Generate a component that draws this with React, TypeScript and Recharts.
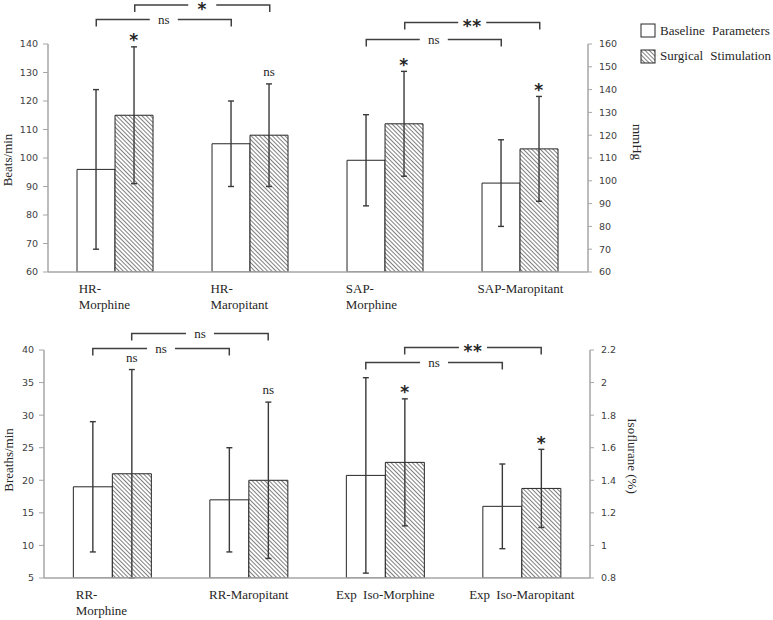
import React from 'react';
import { ComposedChart, Bar, XAxis, YAxis, ErrorBar, LabelList } from 'recharts';

// upper panel: heart rate (left axis) and systolic pressure (right axis)
const topCategories = ['HR-Morphine', 'HR-Maropitant', 'SAP-Morphine', 'SAP-Maropitant'];
const topTickLines = [['HR-', 'Morphine'], ['HR-', 'Maropitant'], ['SAP-', 'Morphine'], ['SAP-Maropitant']];
const hrBaseline = [96, 105];
const hrBaselineSd = [28, 15];
const hrSurgical = [115, 108];
const hrSurgicalSd = [24, 18];
const sapBaseline = [109, 99];
const sapBaselineSd = [20, 19];
const sapSurgical = [125, 114];
const sapSurgicalSd = [23, 23];
const topMarks = ['*', 'ns', '*', '*'];
const beatsTicks = [60, 70, 80, 90, 100, 110, 120, 130, 140];
const mmHgTicks = [60, 70, 80, 90, 100, 110, 120, 130, 140, 150, 160];

// lower panel: resp. rate (left axis) and expired isoflurane (right axis)
const bottomCategories = ['RR-Morphine', 'RR-Maropitant', 'Exp Iso-Morphine', 'Exp Iso-Maropitant'];
const bottomTickLines = [['RR-', 'Morphine'], ['RR-Maropitant'], ['Exp Iso-Morphine'], ['Exp Iso-Maropitant']];
const rrBaseline = [19, 17];
const rrBaselineSd = [10, 8];
const rrSurgical = [21, 20];
const rrSurgicalSd = [16, 12];
const isoBaseline = [1.43, 1.24];
const isoBaselineSd = [0.6, 0.26];
const isoSurgical = [1.51, 1.35];
const isoSurgicalSd = [0.39, 0.24];
const bottomMarks = ['ns', 'ns', '*', '*'];
const breathsTicks = [5, 10, 15, 20, 25, 30, 35, 40];
const isoTicks = [0.8, 1, 1.2, 1.4, 1.6, 1.8, 2, 2.2];

// comparison brackets: [from category, to category, bar (0 baseline / 1 surgical), y, text]
const topBrackets: [number, number, number, number, string][] = [
  [0, 1, 0, 19.5, 'ns'],
  [0, 1, 1, 5, '*'],
  [2, 3, 0, 39.5, 'ns'],
  [2, 3, 1, 22.5, '**'],
];
const bottomBrackets: [number, number, number, number, string][] = [
  [0, 1, 0, 38.5, 'ns'],
  [0, 1, 1, 23.5, 'ns'],
  [2, 3, 0, 52.5, 'ns'],
  [2, 3, 1, 37.5, '**'],
];

const SERIF = '"Liberation Serif", "Times New Roman", serif';
const SANS = '"DejaVu Sans", Verdana, sans-serif';
const AXIS = '#a6a6a6';
const INK = '#262626';
const GAP = 0.215;

function buildRows(cats, lb, lbSd, ls, lsSd, rb, rbSd, rs, rsSd, marks) {
  return cats.map((name, i) => {
    const left = i < 2;
    const j = left ? i : i - 2;
    return {
      name,
      leftBase: left ? lb[j] : null,
      leftBaseSd: left ? lbSd[j] : null,
      leftSurg: left ? ls[j] : null,
      leftSurgSd: left ? lsSd[j] : null,
      rightBase: left ? null : rb[j],
      rightBaseSd: left ? null : rbSd[j],
      rightSurg: left ? null : rs[j],
      rightSurgSd: left ? null : rsSd[j],
      mark: marks[i],
    };
  });
}

const topRows = buildRows(topCategories, hrBaseline, hrBaselineSd, hrSurgical, hrSurgicalSd,
  sapBaseline, sapBaselineSd, sapSurgical, sapSurgicalSd, topMarks);
const bottomRows = buildRows(bottomCategories, rrBaseline, rrBaselineSd, rrSurgical, rrSurgicalSd,
  isoBaseline, isoBaselineSd, isoSurgical, isoSurgicalSd, bottomMarks);

const Star = ({ x, y, text }) => (
  <text x={x} y={y} textAnchor="middle" fontFamily={SANS} fontSize={17} fontWeight="bold" fill={INK} letterSpacing={0.5}>
    {text}
  </text>
);

const catTick = (cats, lines) => (props) => {
  const { x, y, payload } = props;
  const ls = lines[cats.indexOf(payload.value)] || [payload.value];
  const common = { textAnchor: 'middle' as const, fontFamily: SERIF, fontSize: 13, fill: INK, wordSpacing: 3 };
  if (ls.length === 1) {
    return (
      <text x={x} y={y + 21} {...common}>
        {ls[0]}
      </text>
    );
  }
  return (
    <g>
      <text x={x} y={y + 21} {...common}>
        <tspan>{ls[0]}</tspan>
        <tspan fill="transparent">{ls[1]}</tspan>
      </text>
      <text x={x} y={y + 37} {...common}>
        <tspan>{ls[1]}</tspan>
        <tspan fill="transparent">{ls[0]}</tspan>
      </text>
    </g>
  );
};

const Panel = ({
  top, height, marginTop, xHeight, leftWidth, rightAxisX, rows, cats, tickLines,
  leftDomain, leftTicks, rightDomain, rightTicks, brackets, titles, hatchId, showLegend,
}) => {
  const rightWidth = 60;
  const plotW = rightAxisX - leftWidth;
  const catW = plotW / cats.length;
  const gap = catW * GAP;
  const barW = (catW - 2 * gap) / 2;
  const barX = (cat, s) => leftWidth + catW * cat + gap + barW * (s + 0.5);
  const tickStyle = { fontFamily: SANS, fontSize: 9.5, fill: '#404040' };

  // significance mark above the error bar of a surgical bar; the row is found from the bar's slot
  const markLabel = (valueKey, sdKey, min) => (props) => {
    const { x, y, width, height: h } = props;
    const cat = Math.floor((x + width / 2 - leftWidth) / catW);
    const row = rows[cat];
    if (!row || row[valueKey] == null || !h) return null;
    const top = y - (row[sdKey] * h) / (row[valueKey] - min);
    const cx = x + width / 2;
    if (row.mark === 'ns') {
      return (
        <text x={cx} y={top - 8} textAnchor="middle" fontFamily={SERIF} fontSize={13} fill={INK}>
          ns
        </text>
      );
    }
    return <Star x={cx} y={top - 0.5} text={row.mark} />;
  };

  return (
    <div style={{ position: 'absolute', left: 0, top, width: 773, height }}>
      <ComposedChart
        width={773}
        height={height}
        data={rows}
        margin={{ top: marginTop, right: 773 - rightAxisX - rightWidth, left: 0, bottom: 0 }}
        barCategoryGap={`${GAP * 100}%`}
        barGap={0}
      >
        <defs>
          <pattern id={hatchId} width={3} height={3} patternUnits="userSpaceOnUse" patternTransform="rotate(-45)">
            <rect width={3} height={3} fill="#fff" />
            <line x1={0} y1={0} x2={0} y2={3} stroke="#333" strokeWidth={1.25} />
          </pattern>
        </defs>
        <XAxis
          xAxisId="a"
          dataKey="name"
          height={xHeight}
          tickLine={false}
          tickSize={0}
          tickMargin={0}
          axisLine={{ stroke: AXIS, strokeWidth: 1.5 }}
          tick={catTick(cats, tickLines)}
          interval={0}
        />
        <XAxis xAxisId="b" dataKey="name" hide />
        <YAxis
          yAxisId="left"
          width={leftWidth}
          domain={leftDomain}
          ticks={leftTicks}
          interval={0}
          allowDataOverflow
          axisLine={{ stroke: AXIS, strokeWidth: 1.5 }}
          tickLine={{ stroke: AXIS }}
          tickSize={5}
          tickMargin={5}
          tick={tickStyle}
        />
        <YAxis
          yAxisId="right"
          orientation="right"
          width={rightWidth}
          domain={rightDomain}
          ticks={rightTicks}
          interval={0}
          allowDataOverflow
          axisLine={{ stroke: AXIS, strokeWidth: 1.5 }}
          tickLine={{ stroke: AXIS }}
          tickSize={4}
          tickMargin={7}
          tick={{ ...tickStyle, textAnchor: 'start' }}
        />
        <Bar xAxisId="a" yAxisId="left" dataKey="leftBase" fill="#fff" stroke={INK} isAnimationActive={false}>
          <ErrorBar dataKey="leftBaseSd" width={3} stroke="#3a3a3a" strokeWidth={1.4} direction="y" />
        </Bar>
        <Bar xAxisId="a" yAxisId="left" dataKey="leftSurg" fill={`url(#${hatchId})`} stroke={INK} isAnimationActive={false}>
          <ErrorBar dataKey="leftSurgSd" width={3} stroke="#3a3a3a" strokeWidth={1.4} direction="y" />
          <LabelList dataKey="leftSurg" content={markLabel('leftSurg', 'leftSurgSd', leftDomain[0])} />
        </Bar>
        <Bar xAxisId="b" yAxisId="right" dataKey="rightBase" fill="#fff" stroke={INK} isAnimationActive={false}>
          <ErrorBar dataKey="rightBaseSd" width={3} stroke="#3a3a3a" strokeWidth={1.4} direction="y" />
        </Bar>
        <Bar xAxisId="b" yAxisId="right" dataKey="rightSurg" fill={`url(#${hatchId})`} stroke={INK} isAnimationActive={false}>
          <ErrorBar dataKey="rightSurgSd" width={3} stroke="#3a3a3a" strokeWidth={1.4} direction="y" />
          <LabelList dataKey="rightSurg" content={markLabel('rightSurg', 'rightSurgSd', rightDomain[0])} />
        </Bar>
      </ComposedChart>
      <svg width={773} height={height} style={{ position: 'absolute', left: 0, top: 0, pointerEvents: 'none' }}>
        {brackets.map(([a, b, s, y, text], i) => {
          const x1 = barX(a, s);
          const x2 = barX(b, s);
          const mid = (x1 + x2) / 2;
          return (
            <g key={i} stroke="#404040" strokeWidth={1.5} fill="none">
              <path d={`M${x1},${y + 7}V${y}H${mid - 14}`} />
              <path d={`M${mid + 14},${y}H${x2}V${y + 7}`} />
              {text === 'ns' ? (
                <text x={mid} y={y + 4} textAnchor="middle" fontFamily={SERIF} fontSize={13} fill={INK} stroke="none">
                  ns
                </text>
              ) : (
                <g stroke="none">
                  <Star x={mid} y={y + 9.5} text={text} />
                </g>
              )}
            </g>
          );
        })}
        {titles.map(([text, x, y, angle], i) => (
          <text
            key={i}
            x={x}
            y={y}
            transform={`rotate(${angle}, ${x}, ${y})`}
            textAnchor="middle"
            dominantBaseline="central"
            fontFamily={SERIF}
            fontSize={13}
            fill={INK}
          >
            {text}
          </text>
        ))}
        {showLegend && (
          <g fontFamily={SERIF} fontSize={13} fill={INK}>
            <rect x={641} y={24} width={14} height={13} fill="#fff" stroke={INK} />
            <text x={660} y={35} wordSpacing={4}>Baseline Parameters</text>
            <rect x={641} y={50} width={14} height={13} fill={`url(#${hatchId})`} stroke={INK} />
            <text x={660} y={60} wordSpacing={4}>Surgical Stimulation</text>
          </g>
        )}
      </svg>
    </div>
  );
};

const App: React.FC = () => (
  <div style={{ position: 'absolute', left: 0, top: 0, width: 773, height: 620, background: '#fff' }}>
    <Panel
      top={0}
      height={325}
      marginTop={44}
      xHeight={53}
      leftWidth={48}
      rightAxisX={588}
      rows={topRows}
      cats={topCategories}
      tickLines={topTickLines}
      leftDomain={[60, 140]}
      leftTicks={beatsTicks}
      rightDomain={[60, 160]}
      rightTicks={mmHgTicks}
      brackets={topBrackets}
      titles={[['Beats/min', 7, 160, -90], ['mmHg', 637, 142, 90]]}
      hatchId="hatch-top"
      showLegend
    />
    <Panel
      top={310}
      height={310}
      marginTop={40}
      xHeight={42}
      leftWidth={44}
      rightAxisX={590}
      rows={bottomRows}
      cats={bottomCategories}
      tickLines={bottomTickLines}
      leftDomain={[5, 40]}
      leftTicks={breathsTicks}
      rightDomain={[0.8, 2.2]}
      rightTicks={isoTicks}
      brackets={bottomBrackets}
      titles={[['Breaths/min', 8, 150, -90], ['Isoflurane  (%)', 632, 146, 90]]}
      hatchId="hatch-bottom"
      showLegend={false}
    />
  </div>
);

export default App;
